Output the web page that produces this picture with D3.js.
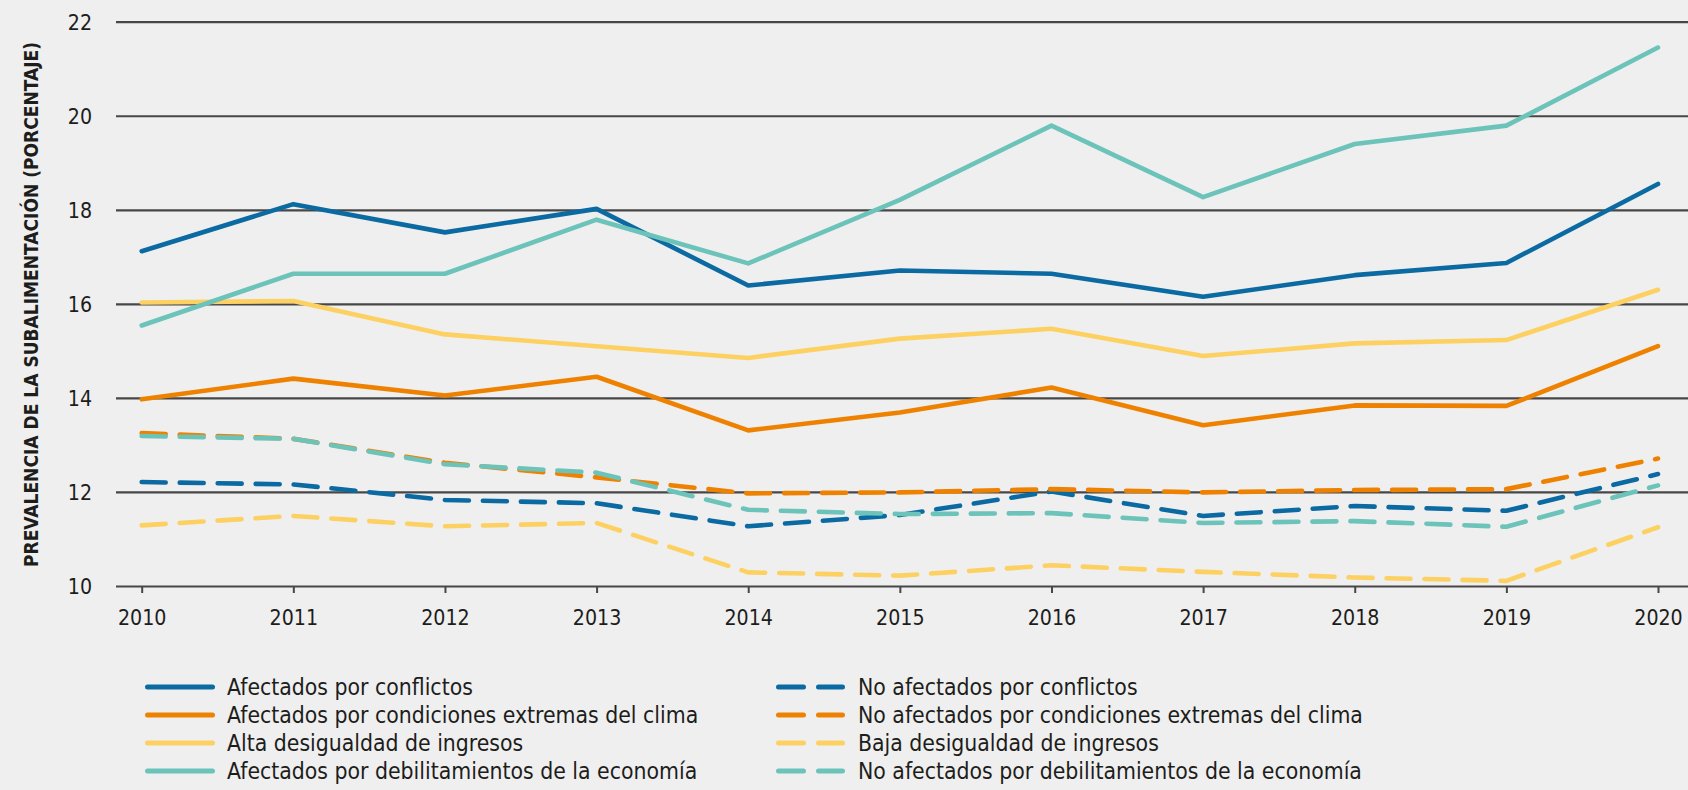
<!DOCTYPE html>
<html><head><meta charset="utf-8">
<script src="https://cdn.jsdelivr.net/npm/d3@7"></script>
<style>
html,body{margin:0;padding:0;background:#efefef;}
svg{display:block;}
text{font-family:"Liberation Sans Narrow","DejaVu Sans Condensed","Liberation Sans",sans-serif;fill:#1d1d1b;}
</style></head><body>
<svg id="chart" width="1688" height="790"></svg>
<script>
// ---- data ----
const years = [2010, 2011, 2012, 2013, 2014, 2015, 2016, 2017, 2018, 2019, 2020];
const afectadosConflictos   = [17.12, 18.12, 17.52, 18.02, 16.39, 16.71, 16.64, 16.15, 16.61, 16.87, 18.55];
const afectadosClima        = [13.97, 14.41, 14.05, 14.45, 13.31, 13.69, 14.22, 13.42, 13.84, 13.83, 15.10];
const altaDesigualdad       = [16.03, 16.06, 15.35, 15.10, 14.85, 15.26, 15.47, 14.89, 15.16, 15.23, 16.30];
const afectadosEconomia     = [15.54, 16.64, 16.64, 17.79, 16.86, 18.21, 19.79, 18.27, 19.40, 19.79, 21.45];
const noAfectadosConflictos = [12.21, 12.16, 11.83, 11.76, 11.27, 11.51, 12.01, 11.49, 11.70, 11.60, 12.38];
const noAfectadosClima      = [13.25, 13.13, 12.62, 12.31, 11.97, 11.99, 12.06, 11.99, 12.04, 12.06, 12.71];
const bajaDesigualdad       = [11.29, 11.49, 11.27, 11.34, 10.29, 10.22, 10.44, 10.30, 10.18, 10.11, 11.25];
const noAfectadosEconomia   = [13.19, 13.13, 12.59, 12.41, 11.62, 11.53, 11.55, 11.34, 11.38, 11.26, 12.14];

const seriesNames = [
  "Afectados por conflictos",
  "Afectados por condiciones extremas del clima",
  "Alta desigualdad de ingresos",
  "Afectados por debilitamientos de la economía",
  "No afectados por conflictos",
  "No afectados por condiciones extremas del clima",
  "Baja desigualdad de ingresos",
  "No afectados por debilitamientos de la economía"
];
const yTicks = [10, 12, 14, 16, 18, 20, 22];
const yTitle = "PREVALENCIA DE LA SUBALIMENTACIÓN (PORCENTAJE)";

// ---- styling ----
const cBlue = "#0b6aa2", cOrange = "#ee8200", cYellow = "#fdd062", cTeal = "#6cc3b9";
const series = [
  {name: seriesNames[0], values: afectadosConflictos,   color: cBlue,   dashed: false},
  {name: seriesNames[1], values: afectadosClima,        color: cOrange, dashed: false},
  {name: seriesNames[2], values: altaDesigualdad,       color: cYellow, dashed: false},
  {name: seriesNames[3], values: afectadosEconomia,     color: cTeal,   dashed: false},
  {name: seriesNames[4], values: noAfectadosConflictos, color: cBlue,   dashed: true},
  {name: seriesNames[5], values: noAfectadosClima,      color: cOrange, dashed: true},
  {name: seriesNames[6], values: bajaDesigualdad,       color: cYellow, dashed: true},
  {name: seriesNames[7], values: noAfectadosEconomia,   color: cTeal,   dashed: true}
];
const drawOrder = [2, 1, 0, 3, 6, 4, 5, 7];

const svg = d3.select("#chart");
svg.append("rect").attr("width", 1688).attr("height", 790).attr("fill", "#efefef");

// font size fitted from measured text widths
function fitSize(str, targetW, weight) {
  const t = svg.append("text").attr("font-size", 100).attr("font-weight", weight || "normal").text(str);
  const w = t.node().getComputedTextLength();
  t.remove();
  return 100 * targetW / w;
}
const tickFs = fitSize("2010", 48.5);
const legendFs = fitSize("Afectados por conflictos", 246);
const titleFs = Math.min(24, fitSize(yTitle, 525, "bold") * 1.0);

const x = d3.scalePoint().domain(years).range([141.7, 1658]);
const y = d3.scaleLinear().domain([10, 22]).range([586, 21.7]);

const gridLeft = 116, gridRight = 1688;
const fam = '"Liberation Sans Narrow","DejaVu Sans Condensed","Liberation Sans",sans-serif';

// y axis + gridlines
const yAxis = svg.append("g").attr("transform", `translate(${gridLeft},0)`)
  .call(d3.axisLeft(y).tickValues(yTicks).tickSize(-(gridRight - gridLeft)).tickPadding(24).tickFormat(d3.format("d")));
yAxis.select(".domain").remove();
yAxis.selectAll(".tick line").attr("stroke", "#474747").attr("stroke-width", 2.2);
yAxis.selectAll(".tick text").attr("font-size", tickFs).attr("fill", "#1d1d1b").attr("dy", "0.36em")
  .attr("font-family", fam);

// x axis
const xAxis = svg.append("g").attr("transform", `translate(0,${y(10)})`)
  .call(d3.axisBottom(x).tickSize(7).tickFormat(d3.format("d")));
xAxis.select(".domain").remove();
xAxis.selectAll(".tick line").attr("stroke", "#474747").attr("stroke-width", 2);
xAxis.selectAll(".tick text").attr("font-size", tickFs).attr("fill", "#1d1d1b").attr("y", 39).attr("dy", 0)
  .attr("font-family", fam);

// y title
svg.append("text")
  .attr("transform", `translate(38,${(42 + 567) / 2}) rotate(-90)`)
  .attr("text-anchor", "middle")
  .attr("font-weight", "bold")
  .attr("font-size", titleFs)
  .attr("textLength", 525)
  .attr("lengthAdjust", "spacingAndGlyphs")
  .text(yTitle);

// lines
const line = d3.line().x((d, i) => x(years[i])).y(d => y(d));
const lineW = 4.6;
drawOrder.forEach(k => {
  const s = series[k];
  svg.append("path")
    .attr("d", line(s.values))
    .attr("fill", "none")
    .attr("stroke", s.color)
    .attr("stroke-width", lineW)
    .attr("stroke-linejoin", "round")
    .attr("stroke-linecap", "round")
    .attr("stroke-dasharray", s.dashed ? "24,14" : null);
});

// legend
const legRowY = [687, 715, 743, 771];
const legCols = [{x1: 145, x2: 215, tx: 227}, {x1: 776, x2: 845, tx: 858}];
series.forEach((s, i) => {
  const col = legCols[s.dashed ? 1 : 0];
  const ry = legRowY[i % 4];
  svg.append("line")
    .attr("x1", col.x1 + 2.5).attr("x2", col.x2 - 2.5).attr("y1", ry).attr("y2", ry)
    .attr("stroke", s.color).attr("stroke-width", 5).attr("stroke-linecap", "round")
    .attr("stroke-dasharray", s.dashed ? "25,15" : null);
  svg.append("text")
    .attr("x", col.tx).attr("y", ry).attr("dy", "0.35em")
    .attr("font-size", legendFs)
    .text(s.name);
});
</script>
</body></html>
